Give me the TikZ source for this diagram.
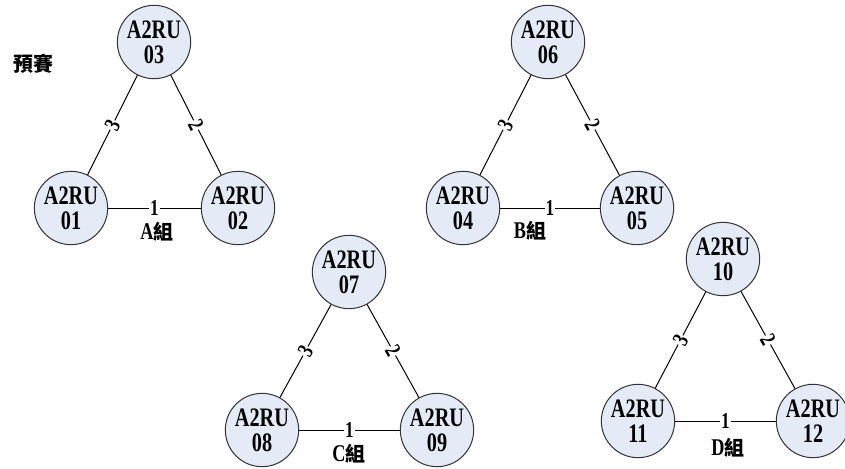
\documentclass[tikz,border=0pt]{standalone}
\usepackage{fontspec}
\setmainfont{Liberation Serif}[FakeStretch=0.76]
\newfontfamily\cjk{Noto Sans CJK TC}
\usetikzlibrary{quotes}
\definecolor{ruFill}{HTML}{E4EBF7}
\tikzstyle{every picture} = [x=0.75pt, y=-0.75pt, line width=0.75pt, every edge quotes/.style={font=\fontsize{17}{17}\selectfont\bfseries, fill=white, inner sep=.6pt, sloped}]
\tikzstyle{ru} = [circle, draw=black!80, fill=ruFill, minimum size=55pt, inner sep=0pt, align=center, font=\fontsize{20}{19}\selectfont\bfseries]
\tikzstyle{grp} = [inner sep=0pt, font=\fontsize{18}{18}\selectfont\bfseries]

\begin{document}
\begin{tikzpicture}
            \useasboundingbox (0,0) rectangle (845,468);
            \node (pre) [grp] at (33,64) {\cjk\fontsize{15}{15}\selectfont 預賽};

            % A組
            \node (node 03) [ru] at (154,42) {A2RU\\03};
            \node (node 01) [ru] at (71,208) {A2RU\\01};
            \node (node 02) [ru] at (238,208) {A2RU\\02};
            \node (grp A) [grp] at (157,232) {A{\cjk\fontsize{15}{15}\selectfont 組}};
            \path (node 01) edge["1"] (node 02)
                  (node 03) edge["2"] (node 02)
                  (node 03) edge["3"] (node 01);

            % B組
            \node (node 06) [ru] at (548,42) {A2RU\\06};
            \node (node 04) [ru] at (463,208) {A2RU\\04};
            \node (node 05) [ru] at (637,208) {A2RU\\05};
            \node (grp B) [grp] at (530,231) {B{\cjk\fontsize{15}{15}\selectfont 組}};
            \path (node 04) edge["1"] (node 05)
                  (node 06) edge["2"] (node 05)
                  (node 06) edge["3"] (node 04);

            % C組
            \node (node 07) [ru] at (349,272) {A2RU\\07};
            \node (node 08) [ru] at (262,430) {A2RU\\08};
            \node (node 09) [ru] at (437,430) {A2RU\\09};
            \node (grp C) [grp] at (349,454) {C{\cjk\fontsize{15}{15}\selectfont 組}};
            \path (node 08) edge["1"] (node 09)
                  (node 07) edge["2"] (node 09)
                  (node 07) edge["3"] (node 08);

            % D組
            \node (node 10) [ru] at (723,259) {A2RU\\10};
            \node (node 11) [ru] at (638,421) {A2RU\\11};
            \node (node 12) [ru] at (813,421) {A2RU\\12};
            \node (grp D) [grp] at (728,448) {D{\cjk\fontsize{15}{15}\selectfont 組}};
            \path (node 11) edge["1"] (node 12)
                  (node 10) edge["2"] (node 12)
                  (node 10) edge["3"] (node 11);
        \end{tikzpicture}
\end{document}
